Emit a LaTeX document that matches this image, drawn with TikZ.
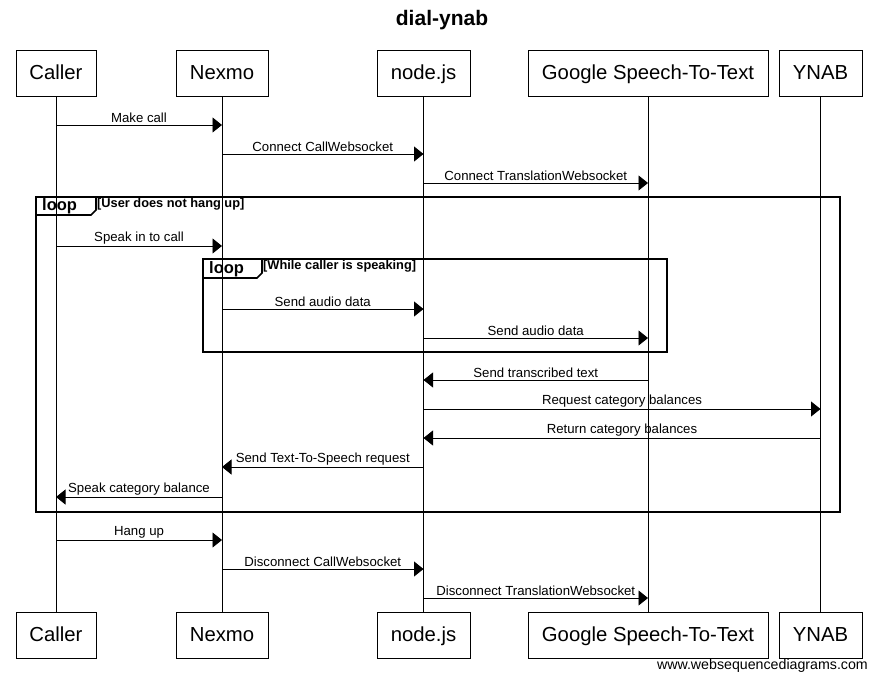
\documentclass[tikz,border=0pt]{standalone}
\usepackage{fontspec}
\setmainfont{Liberation Sans}
\usetikzlibrary{arrows.meta}

\tikzset{
	actor/.style={draw=black,fill=white,minimum height=46pt,inner sep=0pt,text height=15pt,text depth=2pt,font=\fontsize{20.3}{24}\selectfont},
	msg/.style={-{Triangle[length=9.5pt,width=15pt]},line width=0.9pt},
	msglabel/.style={above,inner sep=1.5pt,font=\fontsize{13.2}{15}\selectfont},
	frame/.style={line width=1.7pt},
}

\begin{document}
\begin{tikzpicture}[x=1pt,y=-1pt]
	
	\useasboundingbox (0,0) rectangle (884,682);
	\node[font=\bfseries\fontsize{21}{24}\selectfont] (title) at (442,20) {dial-ynab};
	
	\node[actor,minimum width=80pt]  (caller)  at (56,73)    {Caller};
	\node[actor,minimum width=92pt]  (nexmo)   at (222,73)   {Nexmo};
	\node[actor,minimum width=93pt]  (node)    at (423.5,73) {node.js};
	\node[actor,minimum width=240pt] (google)  at (648,73)   {Google Speech-To-Text};
	\node[actor,minimum width=83pt]  (ynab)    at (820.5,73) {YNAB};
	\node[actor,minimum width=80pt]  (caller2) at (56,635)    {Caller};
	\node[actor,minimum width=92pt]  (nexmo2)  at (222,635)   {Nexmo};
	\node[actor,minimum width=93pt]  (node2)   at (423.5,635) {node.js};
	\node[actor,minimum width=240pt] (google2) at (648,635)   {Google Speech-To-Text};
	\node[actor,minimum width=83pt]  (ynab2)   at (820.5,635) {YNAB};
	
	% lifelines
	\draw (caller) -- (caller2);
	\draw (nexmo)  -- (nexmo2);
	\draw (node)   -- (node2);
	\draw (google) -- (google2);
	\draw (ynab)   -- (ynab2);
	
	% outer loop
	\draw[frame] (36,197) rectangle (840,512);
	\draw[frame] (36,215) -- (91,215) -- (96,210) -- (96,197);
	\node[anchor=west,inner sep=0pt,font=\bfseries\fontsize{16.5}{18}\selectfont] (loopa) at (42,206) {loop};
	\node[anchor=north west,inner sep=0pt,font=\bfseries\fontsize{12.8}{14}\selectfont] (conda) at (97,198.5) {[User does not hang up]};
	
	% inner loop
	\draw[frame] (203,259) rectangle (667,352);
	\draw[frame] (203,278) -- (257,278) -- (262,273) -- (262,259);
	\node[anchor=west,inner sep=0pt,font=\bfseries\fontsize{16.5}{18}\selectfont] (loopb) at (209,269) {loop};
	\node[anchor=north west,inner sep=0pt,font=\bfseries\fontsize{12.8}{14}\selectfont] (condb) at (263,260.5) {[While caller is speaking]};
	
	% messages
	\draw[msg] (caller |- 0,125) -- (nexmo |- 0,125)  node[midway,msglabel] {Make call};
	\draw[msg] (nexmo |- 0,154)  -- (node |- 0,154)   node[midway,msglabel] {Connect CallWebsocket};
	\draw[msg] (node |- 0,183)   -- (google |- 0,183) node[midway,msglabel] {Connect TranslationWebsocket};
	\draw[msg] (caller |- 0,246) -- (nexmo |- 0,246)  node[midway,msglabel] {Speak in to call};
	\draw[msg] (nexmo |- 0,309)  -- (node |- 0,309)   node[midway,msglabel] {Send audio data};
	\draw[msg] (node |- 0,338)   -- (google |- 0,338) node[midway,msglabel] {Send audio data};
	\draw[msg] (google |- 0,380) -- (node |- 0,380)   node[midway,msglabel] {Send transcribed text};
	\draw[msg] (node |- 0,409)   -- (ynab |- 0,409)   node[midway,msglabel] {Request category balances};
	\draw[msg] (ynab |- 0,438)   -- (node |- 0,438)   node[midway,msglabel] {Return category balances};
	\draw[msg] (node |- 0,467)   -- (nexmo |- 0,467)  node[midway,msglabel] {Send Text-To-Speech request};
	\draw[msg] (nexmo |- 0,497)  -- (caller |- 0,497) node[midway,msglabel] {Speak category balance};
	\draw[msg] (caller |- 0,540) -- (nexmo |- 0,540)  node[midway,msglabel] {Hang up};
	\draw[msg] (nexmo |- 0,569)  -- (node |- 0,569)   node[midway,msglabel] {Disconnect CallWebsocket};
	\draw[msg] (node |- 0,598)   -- (google |- 0,598) node[midway,msglabel] {Disconnect TranslationWebsocket};
	
	\node[anchor=east,inner sep=0pt,font=\fontsize{14.2}{16}\selectfont] (footer) at (868,666) {www.websequencediagrams.com};
	
\end{tikzpicture}
\end{document}
